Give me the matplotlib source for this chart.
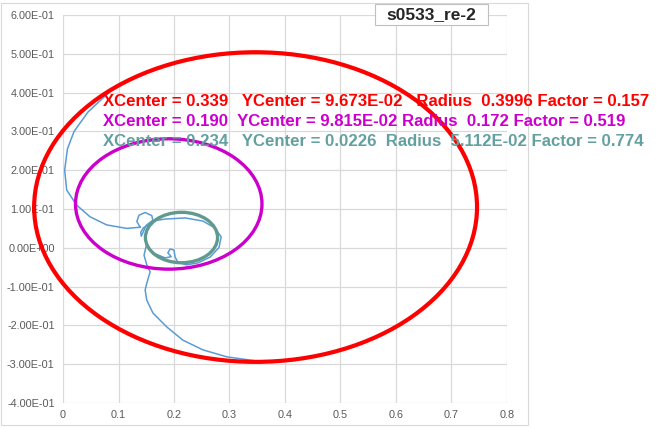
import numpy as np
import matplotlib.pyplot as plt
from matplotlib.patches import Circle, Rectangle

# fitted circles as drawn: (x centre, y centre, radius)
red_fit = (0.347, 0.105, 0.399)
mag_fit = (0.1905, 0.113, 0.168)
teal_fit = (0.2135, 0.0265, 0.065)

# trajectory
traj_x = [0.139, 0.133, 0.137, 0.148, 0.160, 0.162, 0.155, 0.145, 0.140, 0.141,
          0.150, 0.160, 0.184, 0.220, 0.252, 0.274, 0.285, 0.281, 0.265, 0.243,
          0.222, 0.207, 0.202, 0.200, 0.193, 0.189, 0.195, 0.184, 0.162, 0.150,
          0.146, 0.151, 0.157, 0.151, 0.148, 0.151, 0.162, 0.187, 0.216, 0.252,
          0.295, 0.350, 0.417, 0.484, 0.5475, 0.605, 0.654, 0.694, 0.724, 0.742,
          0.748, 0.742, 0.724, 0.694, 0.654, 0.605, 0.5475, 0.484, 0.417, 0.347,
          0.277, 0.210, 0.1465, 0.090, 0.045, 0.020, 0.008, 0.003, 0.0066, 0.0246,
          0.0486, 0.0787, 0.115, 0.139]
traj_y = [0.053, 0.068, 0.084, 0.091, 0.083, 0.070, 0.058, 0.052, 0.040, 0.030,
          0.058, 0.069, 0.074, 0.077, 0.069, 0.051, 0.028, 0.0005, -0.024, -0.039,
          -0.044, -0.037, -0.024, -0.006, -0.003, -0.013, -0.023, -0.026, -0.013, 0.005,
          -0.019, -0.044, -0.062, -0.091, -0.109, -0.135, -0.168, -0.204, -0.238, -0.263,
          -0.281, -0.292, -0.290, -0.272, -0.242, -0.202, -0.153, -0.0955, -0.032, 0.035,
          0.105, 0.175, 0.242, 0.3055, 0.363, 0.412, 0.452, 0.482, 0.500, 0.506,
          0.500, 0.482, 0.452, 0.410, 0.350, 0.300, 0.255, 0.200, 0.149, 0.110,
          0.080, 0.059, 0.050, 0.053]

x_ticks = [0, 0.1, 0.2, 0.3, 0.4, 0.5, 0.6, 0.7, 0.8]
x_labels = ['0', '0.1', '0.2', '0.3', '0.4', '0.5', '0.6', '0.7', '0.8']
y_ticks = [-0.4, -0.3, -0.2, -0.1, 0.0, 0.1, 0.2, 0.3, 0.4, 0.5, 0.6]
y_labels = ['-4.00E-01', '-3.00E-01', '-2.00E-01', '-1.00E-01', '0.00E+00',
            '1.00E-01', '2.00E-01', '3.00E-01', '4.00E-01', '5.00E-01', '6.00E-01']

lines = [
    ('XCenter = 0.339   YCenter = 9.673E-02   Radius  0.3996 Factor = 0.157', '#ff0000'),
    ('XCenter = 0.190  YCenter = 9.815E-02 Radius  0.172 Factor = 0.519', '#cc00cc'),
    ('XCenter = 0.234   YCenter = 0.0226  Radius  5.112E-02 Factor = 0.774', '#64a0a0'),
]

plt.rcParams['font.family'] = 'Liberation Sans'

fig = plt.figure(figsize=(6.57, 4.28), dpi=100)
ax = fig.add_axes([63 / 657, 1 - 403 / 428, 444 / 657, 388 / 428])

ax.set_xlim(0, 0.8)
ax.set_ylim(-0.4, 0.6)
ax.set_xticks(x_ticks)
ax.set_xticklabels(x_labels)
ax.set_yticks(y_ticks)
ax.set_yticklabels(y_labels)
ax.tick_params(length=0, labelsize=7.8, labelcolor='#595959')
ax.tick_params(axis='y', pad=6)
ax.tick_params(axis='x', pad=5)
ax.grid(True, color='#d9d9d9', lw=0.9)
ax.set_axisbelow(True)
for s in ax.spines.values():
    s.set_visible(False)

ax.plot(traj_x, traj_y, color='#5b9bd5', lw=1.1, zorder=2, clip_on=False)

for (cx, cy, r), col, lw in [(red_fit, '#ff0000', 3.0), (mag_fit, '#cc00cc', 2.4),
                             (teal_fit, '#5f9a8f', 2.4)]:
    ax.add_patch(Circle((cx, cy), r, fill=False, edgecolor=col, lw=lw, zorder=3,
                        clip_on=False))

# chart frame
fig.patches.append(Rectangle((1 / 657, 3 / 428), 527 / 657, 422 / 428, transform=fig.transFigure,
                             fill=False, edgecolor='#d9d9d9', lw=0.8))

for i, (txt, col) in enumerate(lines):
    fig.text(103 / 657, 1 - (101 + 20 * i) / 428, txt, color=col, fontsize=12.1,
             fontweight='bold', ha='left', va='center', zorder=5)

# title box
fig.patches.append(Rectangle((375 / 657, 1 - 25 / 428), 113 / 657, 21 / 428,
                             transform=fig.transFigure, fc='white', ec='#bfbfbf',
                             lw=0.8, zorder=4))
fig.text(431.5 / 657, 1 - 15 / 428, 's0533_re-2', fontsize=12.5, fontweight='bold',
         ha='center', va='center', color='#262626', zorder=5)

fig.savefig('out.png', dpi=100)
